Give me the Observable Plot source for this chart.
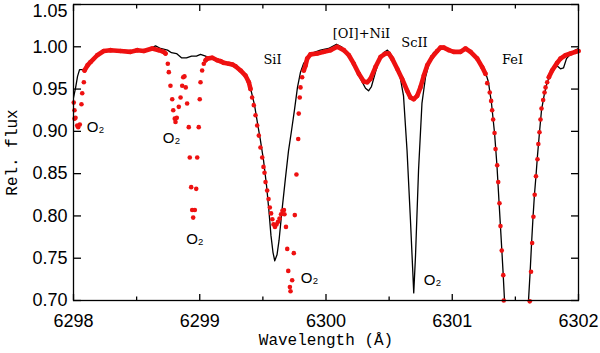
<!DOCTYPE html>
<html><head><meta charset="utf-8">
<script src="https://cdn.jsdelivr.net/npm/d3@7"></script>
<script src="https://cdn.jsdelivr.net/npm/@observablehq/plot@0.6"></script>
<style>body{margin:0;background:#fff}#chart svg{display:block}</style>
</head><body><div id="chart"></div>
<script>
// Black spectrum (wavelength in Å, relative flux)
const blackWave = [6298.000,6298.016,6298.032,6298.048,6298.071,6298.095,6298.135,6298.190,6298.238,6298.293,6298.372,6298.451,6298.507,6298.554,6298.610,6298.650,6298.689,6298.745,6298.776,6298.816,6298.855,6298.895,6298.935,6298.974,6299.006,6299.046,6299.085,6299.133,6299.188,6299.228,6299.283,6299.323,6299.362,6299.386,6299.410,6299.434,6299.457,6299.481,6299.505,6299.529,6299.548,6299.564,6299.580,6299.594,6299.612,6299.628,6299.651,6299.679,6299.703,6299.727,6299.750,6299.774,6299.798,6299.822,6299.853,6299.901,6299.956,6300.020,6300.083,6300.123,6300.162,6300.202,6300.242,6300.281,6300.313,6300.337,6300.360,6300.392,6300.424,6300.455,6300.487,6300.519,6300.550,6300.574,6300.590,6300.614,6300.642,6300.669,6300.695,6300.709,6300.733,6300.760,6300.788,6300.816,6300.851,6300.907,6300.962,6301.010,6301.065,6301.105,6301.145,6301.192,6301.232,6301.263,6301.287,6301.311,6301.335,6301.354,6301.370,6301.386,6301.402,6301.414,6301.510,6301.604,6301.617,6301.628,6301.640,6301.651,6301.663,6301.675,6301.691,6301.707,6301.727,6301.750,6301.778,6301.810,6301.834,6301.857,6301.881,6301.905,6301.945,6301.976,6302.000];
const blackFlux = [0.940,0.951,0.965,0.973,0.973,0.974,0.983,0.990,0.994,0.997,0.996,0.995,0.996,0.996,0.998,1.001,0.998,0.996,0.993,0.992,0.987,0.987,0.989,0.989,0.991,0.989,0.986,0.984,0.981,0.980,0.978,0.973,0.967,0.960,0.946,0.931,0.910,0.889,0.866,0.836,0.806,0.777,0.757,0.747,0.754,0.771,0.806,0.845,0.877,0.901,0.925,0.952,0.970,0.980,0.987,0.993,0.996,0.998,1.003,1.000,0.993,0.984,0.972,0.960,0.951,0.948,0.953,0.970,0.986,0.993,0.996,0.990,0.980,0.970,0.962,0.942,0.877,0.795,0.709,0.753,0.854,0.933,0.964,0.980,0.993,0.999,0.998,0.994,0.993,0.998,0.993,0.986,0.978,0.970,0.958,0.933,0.898,0.860,0.818,0.777,0.735,0.700,0.550,0.700,0.734,0.767,0.799,0.825,0.847,0.871,0.899,0.925,0.942,0.957,0.968,0.976,0.977,0.974,0.975,0.986,0.993,0.996,0.998];

// Red observed points; redPiece: 0 = isolated points, >0 = densely sampled stretch
const redWave = [
6298.002,6298.008,6298.008,6298.016,6298.029,6298.037,6298.050,6298.063,6298.069,6298.082,
6298.087,6298.111,6298.135,6298.188,6298.240,6298.293,6298.372,6298.451,6298.505,6298.557,6298.623,6298.676,6298.713,6298.729,
6298.747,6298.755,6298.768,6298.782,6298.790,6298.802,6298.808,6298.818,6298.834,6298.848,6298.861,6298.869,6298.879,6298.889,6298.900,6298.913,6298.921,6298.932,6298.940,6298.948,6298.961,6298.972,6298.980,6298.992,6299.000,6299.006,6299.019,6299.032,
6299.046,6299.059,6299.099,6299.138,6299.164,6299.190,6299.230,6299.259,6299.283,6299.323,6299.362,6299.389,6299.402,
6299.415,6299.428,6299.442,6299.455,6299.468,6299.481,6299.495,6299.505,6299.513,6299.521,6299.534,6299.545,6299.555,6299.565,6299.575,6299.584,6299.596,6299.608,6299.620,6299.632,6299.644,6299.655,6299.667,6299.671,6299.683,6299.693,6299.701,6299.714,6299.719,6299.732,6299.745,6299.753,6299.766,6299.780,6299.784,6299.792,6299.798,6299.811,
6299.824,6299.838,6299.851,6299.877,6299.930,6299.983,6300.036,6300.089,6300.141,6300.181,6300.220,6300.260,6300.299,6300.326,6300.352,6300.392,6300.432,6300.471,6300.497,6300.524,6300.564,6300.603,6300.643,6300.669,6300.695,6300.722,6300.748,6300.775,6300.802,6300.841,6300.881,6300.907,6300.933,6300.973,6301.012,6301.065,6301.105,6301.145,6301.198,6301.237,6301.263,
6301.277,6301.297,6301.308,6301.316,6301.324,6301.335,6301.343,6301.356,6301.364,6301.374,6301.382,6301.392,6301.404,6301.408,
6301.614,6301.624,6301.633,6301.643,6301.653,6301.663,6301.675,6301.682,6301.691,6301.699,6301.707,6301.720,6301.731,6301.739,6301.752,
6301.765,6301.791,6301.831,6301.857,6301.897,6301.937,6301.976,6302.000];
const redFlux = [
0.934,0.925,0.915,0.916,0.907,0.905,0.908,0.932,0.945,0.958,
0.972,0.978,0.982,0.990,0.995,0.996,0.995,0.994,0.996,0.995,0.998,0.996,0.994,0.992,
0.980,0.970,0.954,0.938,0.925,0.915,0.911,0.916,0.929,0.940,0.954,0.964,0.965,0.952,0.933,0.905,0.869,0.834,0.807,0.798,0.807,0.832,0.869,0.905,0.938,0.958,0.972,0.980,
0.984,0.986,0.987,0.984,0.983,0.981,0.980,0.979,0.977,0.972,0.966,0.958,0.950,
0.940,0.931,0.919,0.907,0.895,0.881,0.869,0.858,0.851,0.840,0.830,0.820,0.810,0.803,0.796,0.790,0.787,0.790,0.793,0.797,0.802,0.806,0.807,0.802,0.787,0.761,0.735,0.716,0.711,0.724,0.756,0.801,0.849,0.891,0.921,0.940,0.952,0.964,
0.972,0.978,0.986,0.991,0.992,0.994,0.996,1.000,0.996,0.990,0.980,0.968,0.959,0.958,0.962,0.976,0.988,0.992,0.992,0.986,0.974,0.962,0.948,0.940,0.938,0.942,0.952,0.966,0.978,0.988,0.995,0.999,0.999,0.996,0.994,0.994,0.998,0.994,0.986,0.976,0.968,
0.957,0.946,0.936,0.925,0.914,0.898,0.879,0.860,0.840,0.815,0.788,0.759,0.730,0.700,
0.699,0.734,0.768,0.799,0.825,0.847,0.867,0.885,0.899,0.914,0.927,0.937,0.946,0.952,0.958,
0.964,0.972,0.981,0.986,0.990,0.992,0.994,0.995];
const redPiece = [
0,0,0,0,0,0,0,0,0,0,
1,1,1,1,1,1,1,1,1,1,1,1,1,1,
0,0,0,0,0,0,0,0,0,0,0,0,0,0,0,0,0,0,0,0,0,0,0,0,0,0,0,0,
2,2,2,2,2,2,2,2,2,2,2,2,2,
0,0,0,0,0,0,0,0,0,0,0,0,0,0,0,0,0,0,0,0,0,0,0,0,0,0,0,0,0,0,0,0,0,0,0,0,0,0,
3,3,3,3,3,3,3,3,3,3,3,3,3,3,3,3,3,3,3,3,3,3,3,3,3,3,3,3,3,3,3,3,3,3,3,3,3,3,3,3,3,
0,0,0,0,0,0,0,0,0,0,0,0,0,0,
0,0,0,0,0,0,0,0,0,0,0,0,0,0,0,
4,4,4,4,4,4,4,4];

// Ticks
const xMajorTicks = [6298, 6299, 6300, 6301, 6302];
const xMinorTicks = [6298.5, 6299.5, 6300.5, 6301.5];
const yTicks = [0.70, 0.75, 0.80, 0.85, 0.90, 0.95, 1.00, 1.05];
const yTopTick = [1.05];

// Annotations
const lineLabels = ["SiI", "[OI]+NiI", "ScII", "FeI"];
const lineLabelWave = [6299.576, 6300.281, 6300.701, 6301.477];
const lineLabelFlux = [0.984, 1.015, 1.005, 0.985];
const o2Labels = ["O₂", "O₂", "O₂", "O₂", "O₂"];
const o2Wave = [6298.174, 6298.776, 6298.962, 6299.869, 6300.844];
const o2Flux = [0.905, 0.892, 0.773, 0.726, 0.724];

const black = blackWave.map((w, i) => ({w, f: blackFlux[i]}));
const red = redWave.map((w, i) => ({w, f: redFlux[i], p: redPiece[i]}));
const lines = lineLabels.map((t, i) => ({t, w: lineLabelWave[i], f: lineLabelFlux[i]}));
const o2 = o2Labels.map((t, i) => ({t, w: o2Wave[i], f: o2Flux[i]}));

const RED = "#ee1111";
const tickFont = {fontFamily: "'Liberation Sans', Arial, sans-serif", fontSize: 18};
const noText = () => "";
const tickOnly = {tickFormat: noText, label: null, strokeWidth: 1.3};
const fmtY = d3.format(".2f");

const chart = Plot.plot({
  width: 600, height: 353,
  marginLeft: 73, marginRight: 22, marginTop: 4, marginBottom: 53,
  style: {background: "#fff", color: "#000", fontFamily: "'Liberation Sans', sans-serif"},
  x: {domain: [6298, 6302], label: null},
  y: {domain: [0.70, 1.05], label: null},
  marks: [
    Plot.line(black, {x: "w", y: "f", stroke: "#000", strokeWidth: 1.3, clip: true}),
    Plot.line(red.filter(d => d.p > 0), {x: "w", y: "f", z: "p", stroke: RED, strokeWidth: 4.6, strokeLinecap: "round", strokeLinejoin: "round"}),
    Plot.dot(red, {x: "w", y: "f", r: 2.3, fill: RED, stroke: "none"}),
    Plot.frame({stroke: "#000", strokeWidth: 1.3}),
    // inward tick marks on all four sides
    Plot.axisX({ticks: xMajorTicks, tickSize: 6, dy: -6, ...tickOnly}),
    Plot.axisX({ticks: xMinorTicks, tickSize: 3.5, dy: -3.5, ...tickOnly}),
    Plot.axisX({anchor: "top", ticks: xMajorTicks, tickSize: 6, dy: 6, ...tickOnly}),
    Plot.axisX({anchor: "top", ticks: xMinorTicks, tickSize: 3.5, dy: 3.5, ...tickOnly}),
    Plot.axisY({ticks: yTicks, tickSize: 8, dx: 8, ...tickOnly}),
    Plot.axisY({anchor: "right", ticks: yTicks, tickSize: 8, dx: -8, ...tickOnly}),
    // tick labels
    Plot.axisX({ticks: xMajorTicks, tickSize: 0, tickPadding: 14, tickFormat: d3.format("d"), label: null, ...tickFont}),
    Plot.axisY({ticks: yTicks.filter(t => t < 1.04), tickSize: 0, tickPadding: 6, tickFormat: fmtY, label: null, ...tickFont}),
    Plot.axisY({ticks: yTopTick, tickSize: 0, tickPadding: 6, dy: 7, tickFormat: fmtY, label: null, ...tickFont}),
    // axis titles
    Plot.text(["Wavelength (Å)"], {frameAnchor: "bottom", lineAnchor: "middle", textAnchor: "middle", dy: 39, fontFamily: "'Liberation Mono', monospace", fontSize: 16}),
    Plot.text(["Rel. flux"], {frameAnchor: "left", lineAnchor: "middle", textAnchor: "middle", dx: -62, rotate: -90, fontFamily: "'Liberation Mono', monospace", fontSize: 16}),
    // annotations
    Plot.text(lines, {x: "w", y: "f", text: "t", fontFamily: "'DejaVu Serif', serif", fontSize: 13}),
    Plot.text(o2, {x: "w", y: "f", text: "t", fontFamily: "'Liberation Sans', sans-serif", fontSize: 15})
  ]
});
document.getElementById("chart").appendChild(chart);
</script>
</body></html>
